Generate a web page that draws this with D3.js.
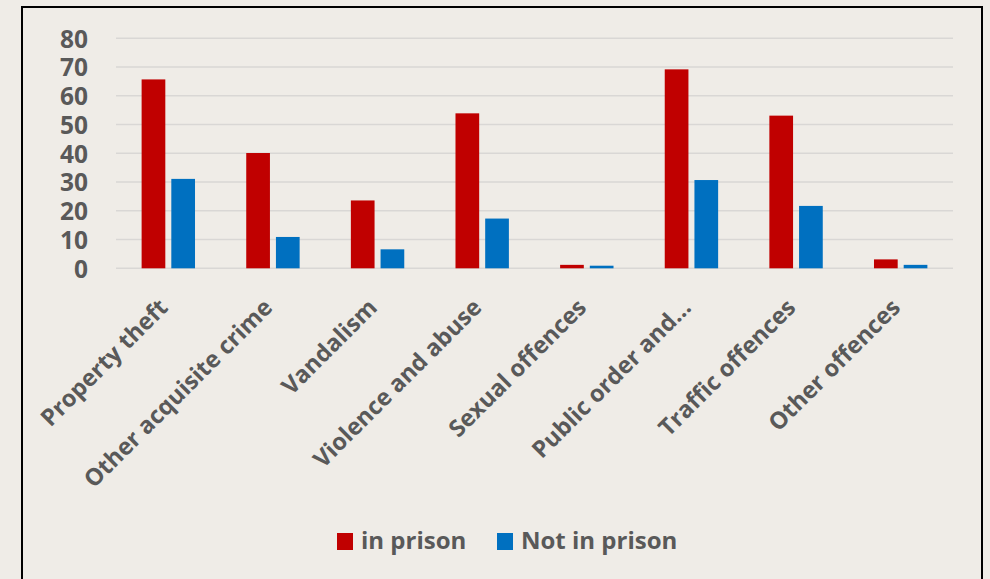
<!DOCTYPE html>
<html>
<head>
<meta charset="utf-8">
<script src="https://cdn.jsdelivr.net/npm/d3@7"></script>
<style>
  html, body { margin: 0; padding: 0; background: #efece7; }
  svg { display: block; }
</style>
</head>
<body>
<svg id="chart" width="990" height="579"></svg>
<script>
// Offence categories and shares (%) for the two groups
const categories = [
  "Property theft",
  "Other acquisite crime",
  "Vandalism",
  "Violence and abuse",
  "Sexual offences",
  "Public order and...",
  "Traffic offences",
  "Other offences"
];
const seriesNames = ["in prison", "Not in prison"];
const inPrison    = [65.7, 40.1, 23.6, 53.9, 1.2, 69.2, 53.1, 3.1];
const notInPrison = [31.1, 10.9, 6.6, 17.3, 0.9, 30.7, 21.7, 1.2];
const yTicks = [0, 10, 20, 30, 40, 50, 60, 70, 80];

const colors = { "in prison": "#c00000", "Not in prison": "#0070c0" };
const textColor = "#595959";
const font = "'Open Sans', 'DejaVu Sans', sans-serif";

const rows = categories.map((c, i) => ({
  category: c,
  values: [
    { key: seriesNames[0], value: inPrison[i] },
    { key: seriesNames[1], value: notInPrison[i] }
  ]
}));

const svg = d3.select("#chart");

// outer frame
svg.append("rect")
  .attr("x", 22).attr("y", 7)
  .attr("width", 960).attr("height", 620)
  .attr("fill", "none")
  .attr("stroke", "#000")
  .attr("stroke-width", 2);

const plot = { left: 116, right: 953, top: 38.3, bottom: 268.3 };

const y = d3.scaleLinear().domain([0, 80]).range([plot.bottom, plot.top]);
const x0 = d3.scaleBand().domain(categories).range([plot.left, plot.right]).padding(0);
const groupW = 53.4;
const x1 = d3.scaleBand().domain(seriesNames)
  .range([(x0.bandwidth() - groupW) / 2, (x0.bandwidth() + groupW) / 2])
  .paddingInner(0.202).paddingOuter(0);

// horizontal gridlines
svg.append("g")
  .selectAll("line")
  .data(yTicks)
  .join("line")
  .attr("x1", plot.left).attr("x2", plot.right)
  .attr("y1", d => y(d)).attr("y2", d => y(d))
  .attr("stroke", "#d9d7d5")
  .attr("stroke-width", 1.6);

// y-axis labels
const yAxis = d3.axisLeft(y).tickValues(yTicks).tickSize(0).tickPadding(0);
const gy = svg.append("g")
  .attr("transform", `translate(88,0)`)
  .call(yAxis);
gy.select(".domain").remove();
gy.selectAll("text")
  .attr("fill", textColor)
  .style("font-family", font)
  .style("font-size", "24.5px")
  .style("font-weight", "700")
  .attr("dy", "0.36em");

// bars
const groups = svg.append("g")
  .selectAll("g")
  .data(rows)
  .join("g")
  .attr("transform", d => `translate(${x0(d.category)},0)`);

groups.selectAll("rect")
  .data(d => d.values)
  .join("rect")
  .attr("x", d => x1(d.key))
  .attr("width", x1.bandwidth())
  .attr("y", d => y(d.value))
  .attr("height", d => y(0) - y(d.value))
  .attr("fill", d => colors[d.key]);

// rotated category labels
svg.append("g")
  .selectAll("text")
  .data(categories)
  .join("text")
  .attr("transform", d => `translate(${x0(d) + x0.bandwidth() / 2 + 1},309) rotate(-45)`)
  .attr("text-anchor", "end")
  .attr("fill", textColor)
  .style("font-family", font)
  .style("font-size", "23.5px")
  .style("font-weight", "700")
  .text(d => d);

// legend
const legendItems = [
  { key: "in prison", x: 337 },
  { key: "Not in prison", x: 497 }
];
const lg = svg.append("g")
  .selectAll("g")
  .data(legendItems)
  .join("g")
  .attr("transform", d => `translate(${d.x},0)`);
lg.append("rect")
  .attr("x", 0).attr("y", 533)
  .attr("width", 16).attr("height", 17)
  .attr("fill", d => colors[d.key]);
lg.append("text")
  .attr("x", 24).attr("y", 549)
  .attr("fill", textColor)
  .style("font-family", font)
  .style("font-size", "24px")
  .style("font-weight", "700")
  .text(d => d.key);
</script>
</body>
</html>
